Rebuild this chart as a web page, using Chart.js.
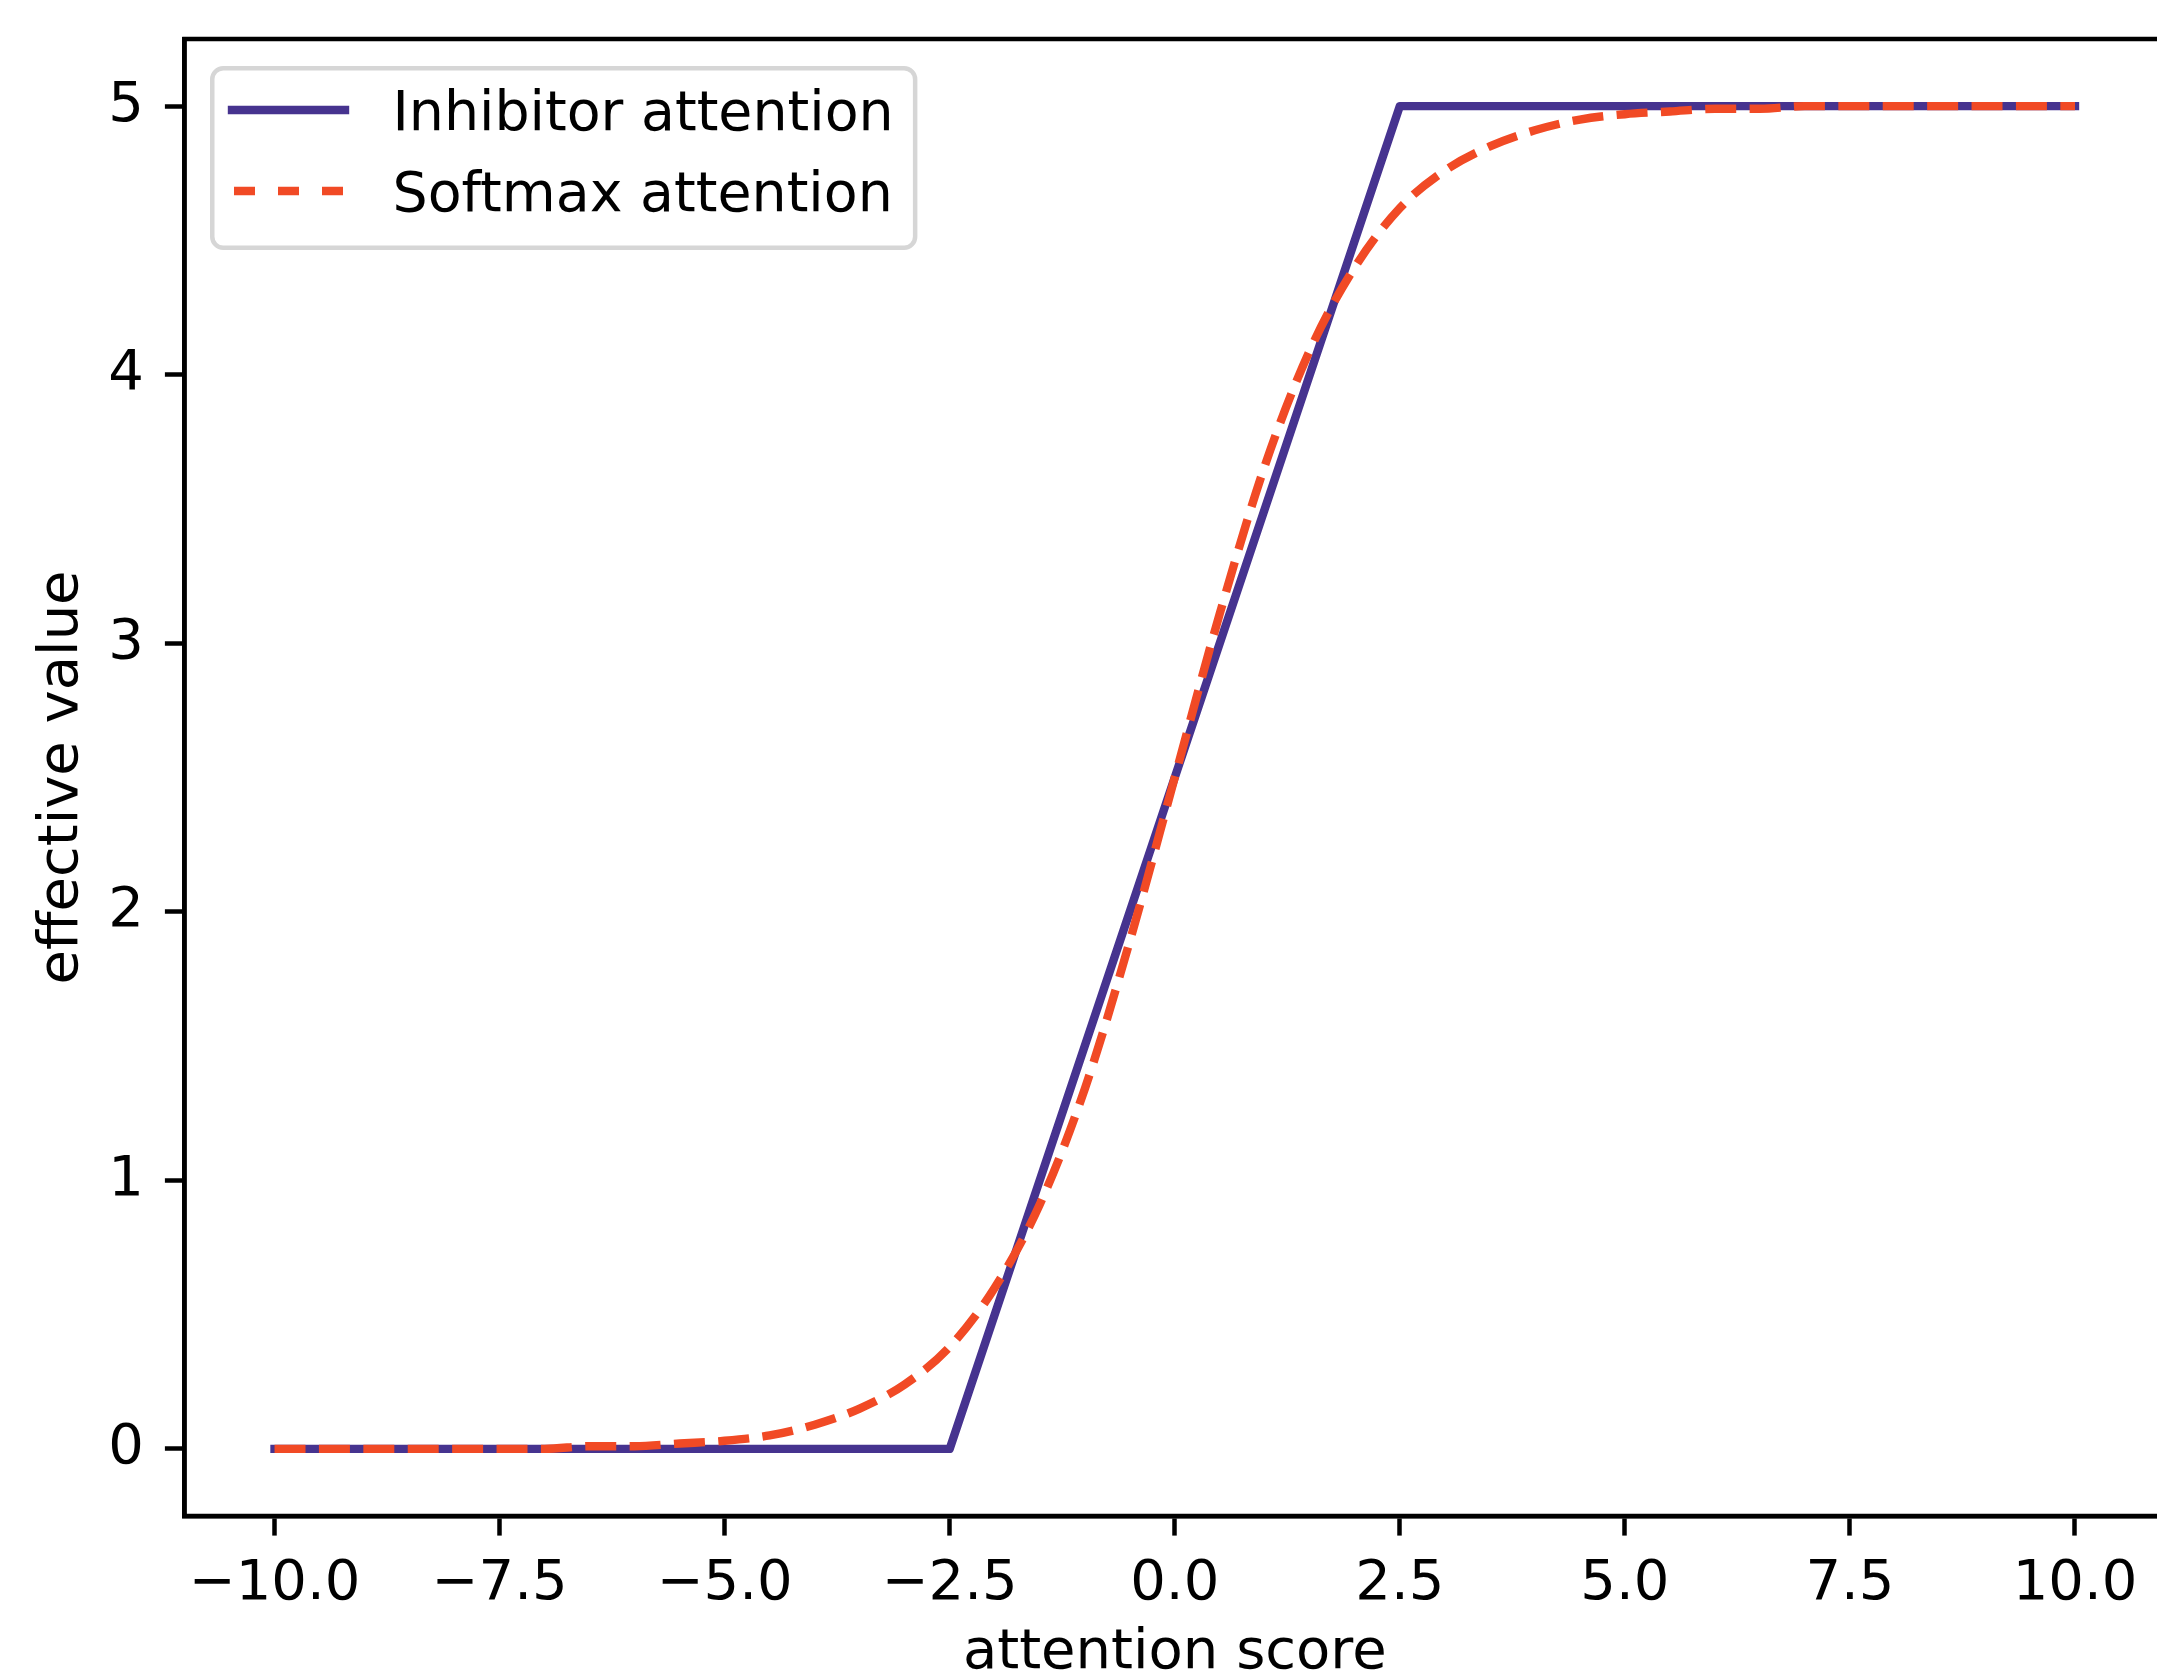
<!DOCTYPE html>
<html>
<head>
<meta charset="utf-8">
<script src="https://cdn.jsdelivr.net/npm/chart.js@4/dist/chart.umd.min.js"></script>
<style>
  html, body { margin: 0; padding: 0; background: #fff; overflow: hidden; }
  #wrap { width: 2157px; height: 1671px; overflow: hidden; position: relative; }
  canvas { display: block; }
</style>
</head>
<body>
<div id="wrap"><canvas id="myChart" width="2180" height="1700" style="width:2180px;height:1700px"></canvas></div>
<script>
// inhibitor attention: piecewise line
var inhibitorX = [-10, -2.5, 2.5, 10];
var inhibitorY = [0, 0, 5, 5];

// softmax attention: every 0.5
var softmaxX = [-10, -9.5, -9, -8.5, -8, -7.5, -7, -6.5, -6, -5.5, -5, -4.5, -4, -3.5, -3, -2.5, -2, -1.5, -1, -0.5,
  0, 0.5, 1, 1.5, 2, 2.5, 3, 3.5, 4, 4.5, 5, 5.5, 6, 6.5, 7, 7.5, 8, 8.5, 9, 9.5, 10];
var softmaxY = [0.00, 0.00, 0.00, 0.00, 0.00, 0.00, 0.00, 0.01, 0.01, 0.02, 0.03, 0.05, 0.09, 0.15, 0.24, 0.38, 0.60, 0.91, 1.34, 1.89,
  2.50, 3.11, 3.66, 4.09, 4.40, 4.62, 4.76, 4.85, 4.91, 4.95, 4.97, 4.98, 4.99, 4.99, 5.00, 5.00, 5.00, 5.00, 5.00, 5.00, 5.00];

var xTicks = [-10, -7.5, -5, -2.5, 0, 2.5, 5, 7.5, 10];
var xTickLabels = ["\u221210.0", "\u22127.5", "\u22125.0", "\u22122.5", "0.0", "2.5", "5.0", "7.5", "10.0"];
var yTicks = [0, 1, 2, 3, 4, 5];
var yTickLabels = ["0", "1", "2", "3", "4", "5"];

var seriesLabels = ["Inhibitor attention", "Softmax attention"];

var PURPLE = "#46338f";
var ORANGE = "#f14a25";
var LW = 8.4;
var SPINE = 4.5;
var FONT = 56;
var LEGEND_FONT = 55.4;

Chart.defaults.font.family = "'DejaVu Sans'";
Chart.defaults.font.size = FONT;
Chart.defaults.color = "#000";

function pts(xs, ys) {
  return xs.map(function (x, i) { return { x: x, y: ys[i] }; });
}

var data = {
  datasets: [
    {
      label: seriesLabels[0],
      data: pts(inhibitorX, inhibitorY),
      borderColor: PURPLE,
      borderWidth: LW,
      borderCapStyle: "square",
      borderJoinStyle: "round",
      pointRadius: 0,
      tension: 0,
      order: 1,
    },
    {
      label: seriesLabels[1],
      data: pts(softmaxX, softmaxY),
      borderColor: ORANGE,
      borderWidth: LW,
      borderDash: [31, 13.4],
      borderCapStyle: "butt",
      borderJoinStyle: "round",
      cubicInterpolationMode: "monotone",
      pointRadius: 0,
      order: 0,
      legendDash: [21, 23],
    },
  ],
};

// box around the plot, drawn over the lines like matplotlib spines
var frame = {
  id: "frame",
  afterDatasetsDraw: function (chart) {
    var a = chart.chartArea, ctx = chart.ctx;
    ctx.save();
    ctx.strokeStyle = "#000";
    ctx.lineWidth = SPINE;
    ctx.lineJoin = "miter";
    ctx.strokeRect(a.left, a.top, a.right - a.left, a.bottom - a.top);
    ctx.restore();
  },
};

// legend with a rounded frame in the upper left corner
var legendBox = {
  id: "legendBox",
  afterDraw: function (chart) {
    var a = chart.chartArea, ctx = chart.ctx;
    var sets = chart.data.datasets;
    ctx.save();
    ctx.font = LEGEND_FONT + "px 'DejaVu Sans'";
    var maxW = 0;
    sets.forEach(function (ds) { maxW = Math.max(maxW, ctx.measureText(ds.label).width); });

    var x0 = a.left + 27.75, y0 = a.top + 29.25;
    var textX = a.left + 208;
    var w = textX + maxW + 21.5 - x0, h = 179.5;
    var r = 11;
    ctx.beginPath();
    ctx.moveTo(x0 + r, y0);
    ctx.lineTo(x0 + w - r, y0);
    ctx.arcTo(x0 + w, y0, x0 + w, y0 + r, r);
    ctx.lineTo(x0 + w, y0 + h - r);
    ctx.arcTo(x0 + w, y0 + h, x0 + w - r, y0 + h, r);
    ctx.lineTo(x0 + r, y0 + h);
    ctx.arcTo(x0, y0 + h, x0, y0 + h - r, r);
    ctx.lineTo(x0, y0 + r);
    ctx.arcTo(x0, y0, x0 + r, y0, r);
    ctx.closePath();
    ctx.fillStyle = "rgba(255,255,255,0.8)";
    ctx.fill();
    ctx.strokeStyle = "#d6d6d6";
    ctx.lineWidth = SPINE;
    ctx.stroke();

    sets.forEach(function (ds, i) {
      var y = a.top + 71 + i * 81;
      ctx.beginPath();
      ctx.strokeStyle = ds.borderColor;
      ctx.lineWidth = ds.borderWidth;
      ctx.setLineDash(ds.legendDash || []);
      ctx.lineCap = ds.borderCapStyle;
      if (ds.legendDash) {
        ctx.moveTo(a.left + 49.5, y);
        ctx.lineTo(a.left + 160.5, y);
      } else {
        ctx.moveTo(a.left + 47.5, y);
        ctx.lineTo(a.left + 160.5, y);
      }
      ctx.stroke();
      ctx.setLineDash([]);
      ctx.fillStyle = "#000";
      ctx.textBaseline = "alphabetic";
      ctx.textAlign = "left";
      ctx.fillText(ds.label, textX, y + 20);
    });
    ctx.restore();
  },
};

var config = {
  type: "line",
  data: data,
  options: {
    responsive: false,
    animation: false,
    devicePixelRatio: 1,
    layout: { padding: { left: 0, top: 39, right: 15, bottom: 0 } },
    plugins: {
      legend: { display: false },
      tooltip: { enabled: false },
    },
    scales: {
      x: {
        type: "linear",
        min: -11,
        max: 11,
        afterBuildTicks: function (s) { s.ticks = xTicks.map(function (v) { return { value: v }; }); },
        afterFit: function (s) { s.height = 184; s.paddingLeft = 0; s.paddingRight = 0; },
        ticks: {
          autoSkip: false,
          maxRotation: 0,
          padding: 15,
          color: "#000",
          font: { size: FONT },
          callback: function (v, i) { return xTickLabels[i]; },
        },
        grid: { drawOnChartArea: false, drawTicks: true, tickLength: 19.6, tickWidth: SPINE, tickColor: "#000" },
        border: { display: true, color: "#000", width: SPINE },
        title: {
          display: true,
          text: "attention score",
          color: "#000",
          font: { size: FONT },
          padding: { top: 0, bottom: 13 },
        },
      },
      y: {
        type: "linear",
        min: -0.25,
        max: 5.25,
        afterBuildTicks: function (s) { s.ticks = yTicks.map(function (v) { return { value: v }; }); },
        afterFit: function (s) { s.width = 184.5; s.paddingTop = 0; s.paddingBottom = 0; },
        ticks: {
          autoSkip: false,
          padding: 21,
          color: "#000",
          font: { size: FONT },
          callback: function (v, i) { return yTickLabels[i]; },
        },
        grid: { drawOnChartArea: false, drawTicks: true, tickLength: 19.6, tickWidth: SPINE, tickColor: "#000" },
        border: { display: true, color: "#000", width: SPINE },
        title: {
          display: true,
          text: "effective value",
          color: "#000",
          font: { size: FONT },
          padding: { top: 29, bottom: 0 },
        },
      },
    },
  },
  plugins: [frame, legendBox],
};

var myChart = document.getElementById("myChart").getContext("2d");
var chart1 = new Chart(myChart, config);
</script>
</body>
</html>
